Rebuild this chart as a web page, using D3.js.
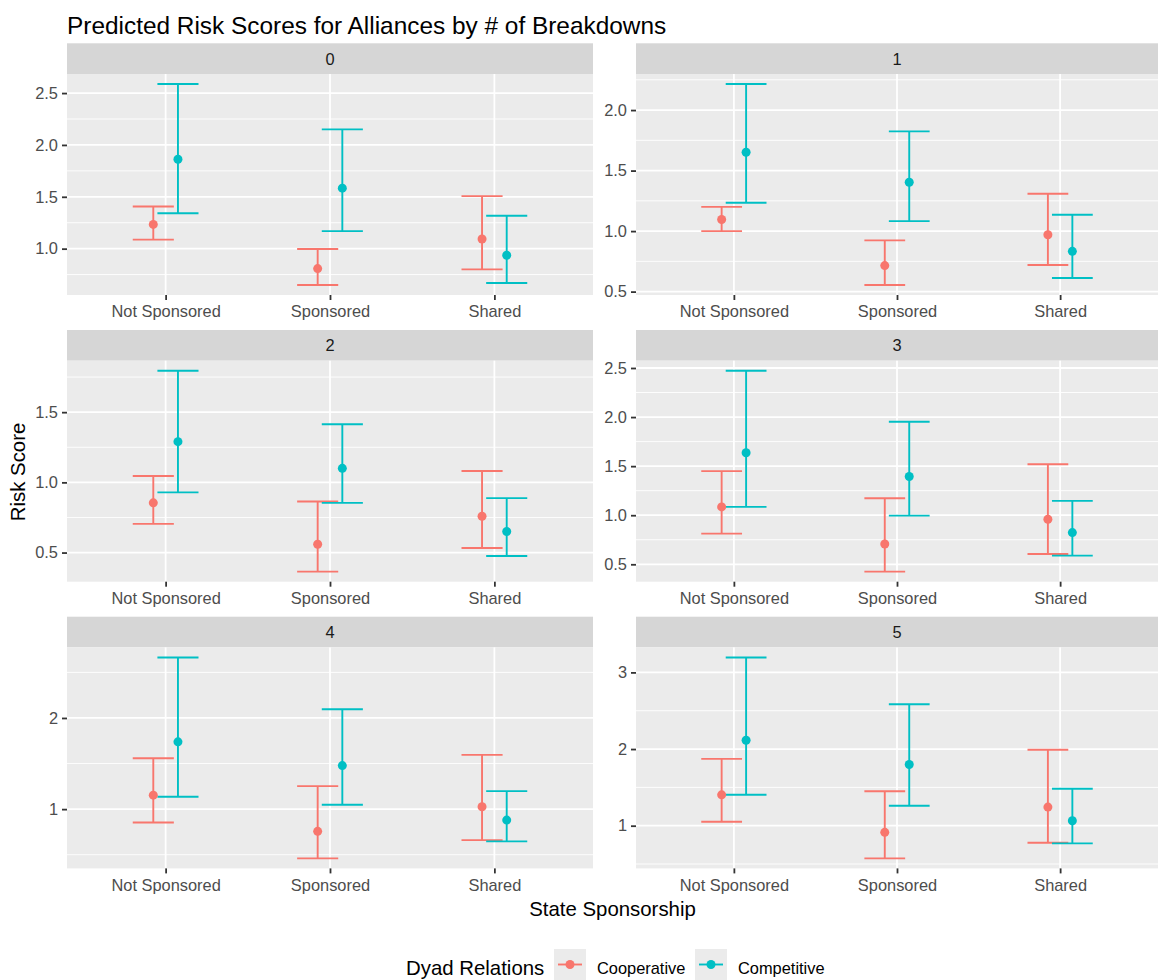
<!DOCTYPE html>
<html>
<head>
<meta charset="utf-8">
<script src="https://cdn.jsdelivr.net/npm/d3@7"></script>
<style>
  body { margin: 0; background: #fff; }
  svg { display: block; font-family: "Liberation Sans", Arial, Helvetica, sans-serif; }
</style>
</head>
<body>
<svg id="chart" width="1158" height="980"></svg>
<script>
// facet = number of breakdowns; each row below is [Not Sponsored, Sponsored, Shared]
const facets = ["0", "1", "2", "3", "4", "5"];
const sponsorship = ["Not Sponsored", "Sponsored", "Shared"];
const relations = ["Cooperative", "Competitive"];

const coopFit  = [[1.234, 0.808, 1.093], [1.096, 0.715, 0.970], [0.854, 0.559, 0.759],
                  [1.085, 0.707, 0.959], [1.153, 0.756, 1.026], [1.403, 0.913, 1.243]];
const coopLow  = [[1.087, 0.650, 0.800], [1.000, 0.555, 0.720], [0.704, 0.364, 0.533],
                  [0.812, 0.425, 0.605], [0.854, 0.460, 0.660], [1.052, 0.574, 0.778]];
const coopHigh = [[1.407, 0.996, 1.506], [1.200, 0.923, 1.308], [1.045, 0.864, 1.081],
                  [1.449, 1.173, 1.520], [1.558, 1.252, 1.595], [1.872, 1.450, 1.990]];

const compFit  = [[1.862, 1.583, 0.936], [1.651, 1.404, 0.833], [1.290, 1.100, 0.650],
                  [1.636, 1.394, 0.823], [1.738, 1.478, 0.880], [2.115, 1.798, 1.065]];
const compLow  = [[1.342, 1.169, 0.669], [1.234, 1.082, 0.613], [0.929, 0.854, 0.476],
                  [1.085, 0.996, 0.588], [1.136, 1.048, 0.646], [1.403, 1.260, 0.769]];
const compHigh = [[2.587, 2.150, 1.317], [2.215, 1.824, 1.135], [1.795, 1.414, 0.888],
                  [2.472, 1.952, 1.146], [2.664, 2.095, 1.197], [3.195, 2.584, 1.482]];

const yTicks = [[1.0, 1.5, 2.0, 2.5], [0.5, 1.0, 1.5, 2.0], [0.5, 1.0, 1.5],
                [0.5, 1.0, 1.5, 2.0, 2.5], [1, 2], [1, 2, 3]];
const yTickFormat = [".1f", ".1f", ".1f", ".1f", "d", "d"];

const colors = ["#F8766D", "#00BFC4"];

const svg = d3.select("#chart");

// layout (ggplot facet_wrap, 2 columns)
const colX = [67, 636], colW = [526, 522];
const stripTop = [43.3, 330, 616.7], stripH = 30.7, plotH = 221;
const smallFont = 16.4, titleFont = 20.4;

svg.append("text")
  .attr("x", 67).attr("y", 33.5)
  .attr("font-size", 24.4).attr("fill", "#000")
  .text("Predicted Risk Scores for Alliances by # of Breakdowns");

facets.forEach((f, i) => {
  const col = i % 2, row = Math.floor(i / 2);
  const x0 = colX[col], w = colW[col];
  const sTop = stripTop[row], pTop = sTop + stripH, pBot = pTop + plotH;

  const rows = [];
  sponsorship.forEach((s, k) => {
    rows.push({ cat: s, rel: 0, fit: coopFit[i][k], lo: coopLow[i][k], hi: coopHigh[i][k] });
    rows.push({ cat: s, rel: 1, fit: compFit[i][k], lo: compLow[i][k], hi: compHigh[i][k] });
  });
  const lo = d3.min(rows, (d) => d.lo), hi = d3.max(rows, (d) => d.hi);
  const pad = (hi - lo) * 0.05;

  const x = d3.scalePoint().domain(sponsorship).range([x0, x0 + w]).padding(0.6);
  const y = d3.scaleLinear().domain([lo - pad, hi + pad]).range([pBot, pTop]);
  const step = x.step();
  const dodge = 0.075 * step, capHalf = 0.125 * step;

  const g = svg.append("g");

  // strip
  g.append("rect").attr("x", x0).attr("y", sTop).attr("width", w).attr("height", stripH).attr("fill", "#D6D6D6");
  g.append("text")
    .attr("x", x0 + w / 2).attr("y", sTop + stripH / 2 + 6)
    .attr("text-anchor", "middle").attr("font-size", smallFont).attr("fill", "#1A1A1A")
    .text(f);

  // panel
  g.append("rect").attr("x", x0).attr("y", pTop).attr("width", w).attr("height", plotH).attr("fill", "#EBEBEB");

  const ticks = yTicks[i];
  const tStep = ticks[1] - ticks[0];
  const minor = [ticks[0] - tStep / 2].concat(ticks.map((t) => t + tStep / 2))
    .filter((m) => m >= y.domain()[0] && m <= y.domain()[1]);

  g.append("g").selectAll("line").data(minor).join("line")
    .attr("x1", x0).attr("x2", x0 + w)
    .attr("y1", (d) => y(d)).attr("y2", (d) => y(d))
    .attr("stroke", "#fff").attr("stroke-width", 0.9);
  g.append("g").selectAll("line").data(ticks).join("line")
    .attr("x1", x0).attr("x2", x0 + w)
    .attr("y1", (d) => y(d)).attr("y2", (d) => y(d))
    .attr("stroke", "#fff").attr("stroke-width", 1.8);
  g.append("g").selectAll("line").data(sponsorship).join("line")
    .attr("x1", (d) => x(d)).attr("x2", (d) => x(d))
    .attr("y1", pTop).attr("y2", pBot)
    .attr("stroke", "#fff").attr("stroke-width", 1.8);

  // error bars
  const bars = g.append("g").selectAll("g").data(rows).join("g")
    .attr("stroke", (d) => colors[d.rel]).attr("stroke-width", 1.9).attr("fill", "none");
  const cx = (d) => x(d.cat) + (d.rel === 0 ? -dodge : dodge);
  bars.append("line")
    .attr("x1", cx).attr("x2", cx)
    .attr("y1", (d) => y(d.lo)).attr("y2", (d) => y(d.hi));
  bars.append("line")
    .attr("x1", (d) => cx(d) - capHalf).attr("x2", (d) => cx(d) + capHalf)
    .attr("y1", (d) => y(d.lo)).attr("y2", (d) => y(d.lo));
  bars.append("line")
    .attr("x1", (d) => cx(d) - capHalf).attr("x2", (d) => cx(d) + capHalf)
    .attr("y1", (d) => y(d.hi)).attr("y2", (d) => y(d.hi));

  g.append("g").selectAll("circle").data(rows).join("circle")
    .attr("cx", cx).attr("cy", (d) => y(d.fit)).attr("r", 4.5)
    .attr("fill", (d) => colors[d.rel]);

  // axes
  const yAxis = g.append("g").attr("transform", `translate(${x0},0)`)
    .call(d3.axisLeft(y).tickValues(ticks).tickSize(5).tickPadding(4).tickFormat(d3.format(yTickFormat[i])));
  const xAxis = g.append("g").attr("transform", `translate(0,${pBot})`)
    .call(d3.axisBottom(x).tickSize(5).tickPadding(5.5));
  [yAxis, xAxis].forEach((a) => {
    a.select(".domain").remove();
    a.selectAll(".tick line").attr("stroke", "#333").attr("stroke-width", 1.8);
    a.selectAll(".tick text").attr("fill", "#4D4D4D").attr("font-size", smallFont)
      .attr("font-family", "Liberation Sans, Arial, sans-serif");
  });
});

// axis titles
svg.append("text")
  .attr("transform", "translate(24.5,472) rotate(-90)")
  .attr("text-anchor", "middle").attr("font-size", titleFont).attr("fill", "#000")
  .text("Risk Score");
svg.append("text")
  .attr("x", 612.5).attr("y", 916)
  .attr("text-anchor", "middle").attr("font-size", titleFont).attr("fill", "#000")
  .text("State Sponsorship");

// legend
const legend = svg.append("g");
legend.append("text").attr("x", 406).attr("y", 974.5)
  .attr("font-size", titleFont).attr("fill", "#000").text("Dyad Relations");
const keyX = [554, 695], labelX = [597, 738];
relations.forEach((r, k) => {
  const kg = legend.append("g").attr("transform", `translate(${keyX[k]},949)`);
  kg.append("rect").attr("width", 32).attr("height", 31).attr("fill", "#EBEBEB");
  kg.append("line").attr("x1", 4).attr("x2", 28).attr("y1", 15.5).attr("y2", 15.5)
    .attr("stroke", colors[k]).attr("stroke-width", 1.9);
  kg.append("circle").attr("cx", 16).attr("cy", 15.5).attr("r", 4.5).attr("fill", colors[k]);
  legend.append("text").attr("x", labelX[k]).attr("y", 973.5)
    .attr("font-size", smallFont).attr("fill", "#000").text(r);
});
</script>
</body>
</html>
